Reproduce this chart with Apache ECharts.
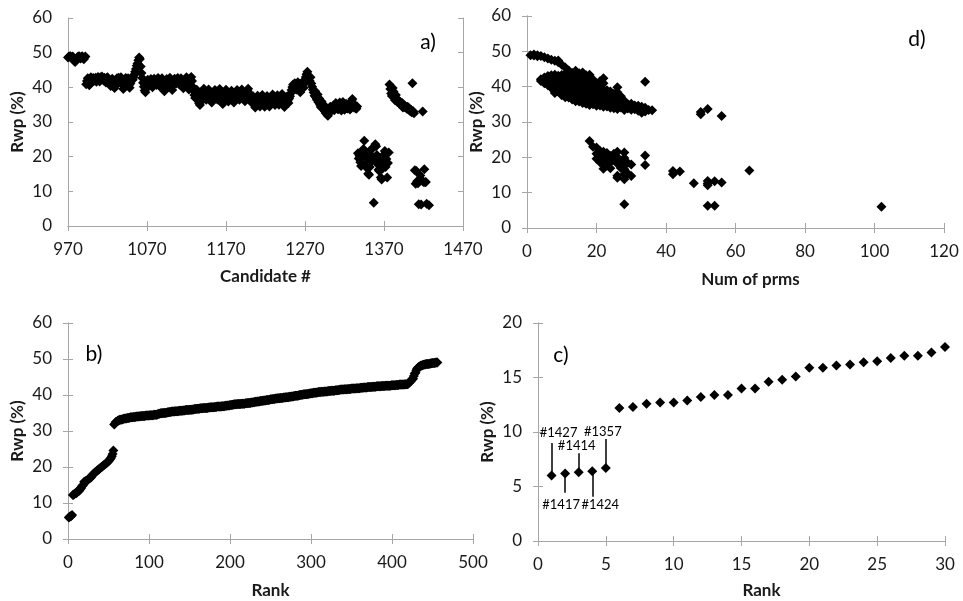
<!DOCTYPE html>
<html><head><meta charset="utf-8">
<script src="https://cdn.jsdelivr.net/npm/echarts@6/dist/echarts.min.js"></script>
<style>html,body{margin:0;padding:0;background:#fff}#c{width:963px;height:601px}</style>
</head><body><div id="c"></div>
<script>
// ---- DATA ----
// Panel a) Rwp (%) for consecutive candidates starting at #970 (null = no candidate)
const candidateStart = 970;
const rwpByCandidate = [
  // 970-992
  48.6,48.8,48.9,49.0,48.7,48.5,48.9,48.2,47.6,47.3,47.8,48.4,48.7,48.9,49.0,48.6,48.3,48.8,49.0,48.5,48.1,48.6,48.9,
  // 993-1052
  40.9,41.8,42.6,41.2,40.6,42.3,42.9,41.5,42.1,42.7,41.9,42.4,42.8,41.6,42.2,43.0,
  42.5,41.7,42.9,42.4,43.1,42.6,42.0,42.8,42.3,41.4,42.7,42.9,42.2,41.8,41.0,40.4,
  41.3,42.5,41.6,40.2,39.8,40.7,41.9,42.6,42.1,42.8,41.5,42.4,42.9,42.0,40.8,39.5,
  40.3,41.7,42.7,42.3,41.2,42.6,40.6,39.9,41.1,42.5,43.0,42.2,
  // 1053-1064
  42.9,43.6,44.5,45.3,46.2,46.9,47.8,48.6,48.2,46.0,44.1,42.7,
  // 1065-1127
  41.3,40.2,39.1,38.6,39.8,41.0,42.2,41.6,40.5,41.9,42.4,41.1,40.0,41.7,42.5,42.0,
  41.4,40.7,42.3,42.7,41.8,40.3,41.5,42.1,42.6,41.2,39.6,38.9,40.1,41.6,42.4,41.9,
  40.9,42.2,42.8,41.3,40.4,39.2,40.6,41.8,42.5,42.0,41.1,42.3,42.7,41.5,40.8,42.1,
  42.6,41.7,40.5,39.7,40.9,41.9,42.4,42.9,41.6,40.2,39.4,41.0,42.2,43.0,41.8,
  // 1128-1205
  40.1,39.0,37.8,36.9,38.4,39.3,37.5,36.2,35.4,34.9,35.8,36.7,38.0,39.1,39.6,38.6,
  37.2,36.4,37.9,38.8,39.4,38.2,37.0,36.1,35.6,36.8,37.6,38.5,39.2,38.9,37.4,36.5,
  37.7,38.3,39.5,38.1,36.6,35.5,35.2,36.3,37.3,38.7,39.3,38.0,36.9,35.9,36.8,37.8,
  38.6,39.0,37.5,36.2,35.6,36.5,37.6,38.4,39.2,38.1,37.1,36.4,37.4,38.5,39.4,38.8,
  37.7,36.7,36.0,37.2,38.2,39.1,39.6,38.3,37.0,36.3,35.7,36.6,37.5,36.4,
  // 1206-1250
  35.2,34.2,35.8,36.9,37.6,36.4,35.5,34.5,35.9,37.2,37.8,36.6,35.3,34.4,35.6,36.8,
  37.5,36.2,35.1,34.5,35.7,36.7,37.4,37.9,36.5,35.4,34.9,36.0,37.1,37.7,36.3,35.0,
  35.8,36.9,37.6,38.1,36.6,35.3,34.3,35.6,36.4,37.3,36.1,35.5,36.8,
  // 1251-1283
  37.4,38.3,39.2,40.1,40.8,39.7,41.2,40.5,39.4,40.9,41.5,40.3,39.0,38.6,40.0,41.3,
  40.6,39.8,41.0,42.1,43.0,43.8,44.5,43.4,42.6,41.8,42.9,41.1,40.2,39.3,38.5,37.6,38.9,
  // 1284-1300
  37.1,36.4,37.9,35.7,36.8,35.0,34.3,35.9,34.0,33.8,34.9,33.2,32.6,33.5,32.1,31.8,32.9,
  // 1301-1336
  33.6,34.4,33.1,34.0,34.3,34.7,33.4,34.2,35.5,34.1,33.8,33.7,34.5,35.6,34.1,33.3,
  33.9,35.8,34.3,33.5,34.4,35.3,34.0,33.9,34.2,34.4,33.6,35.0,36.1,36.6,35.4,34.2,
  34.8,34.0,33.8,34.5,
  // 1337-1376
  21.0,19.5,20.3,18.4,17.3,19.9,21.4,22.2,24.6,20.8,18.0,16.8,19.2,15.1,14.8,17.0,
  21.9,18.6,20.1,22.5,6.7,19.7,23.6,23.0,20.5,17.8,16.2,15.9,19.0,14.0,13.4,16.5,
  18.8,20.6,21.6,17.0,19.3,14.0,18.2,21.2,
  // 1377-1405
  40.8,39.5,38.2,37.5,39.8,38.8,37.0,36.3,37.8,36.8,35.8,36.2,35.4,35.9,35.1,34.8,
  35.5,34.2,35.0,34.3,34.5,34.1,33.8,34.4,33.6,33.9,33.2,33.5,32.8,
  // 1406-1427
  41.2,33.1,32.5,16.1,12.2,15.9,12.9,12.3,6.3,13.4,14.6,6.2,13.2,33.0,12.7,16.4,
  12.6,12.7,6.4,null,null,6.0
];
const candidateTicks = [970, 1070, 1170, 1270, 1370, 1470];

// Panel d) [number of parameters, Rwp (%)]
const prmsRwpPairs = [
  [1,48.9],[2,48.8],[2,49.1],[3,48.9],[3,48.6],[4,48.7],[5,48.3],[6,48.0],[7,47.6],[8,47.3],[9,46.9],[9,47.4],[10,46.2],[11,45.4],[12,44.6],
  [4,42.1],[4,41.6],[5,42.6],[5,41.0],[6,43.0],[6,41.8],[6,40.4],
  [7,43.2],[7,41.9],[7,40.6],[7,39.6],[8,43.4],[8,42.0],[8,40.5],[8,39.2],[8,38.2],
  [9,43.1],[9,41.6],[9,40.0],[9,38.6],[10,43.3],[10,41.8],[10,40.3],[10,38.9],[10,37.6],
  [11,43.6],[11,42.1],[11,40.6],[11,39.2],[11,37.8],[11,37.0],
  [12,42.9],[12,41.4],[12,39.9],[12,38.4],[12,36.9],[13,43.9],[13,42.4],[13,40.8],[13,39.3],[13,37.7],[13,36.4],
  [14,44.5],[14,43.0],[14,41.5],[14,40.0],[14,38.5],[14,37.0],[14,35.9],
  [15,43.8],[15,42.2],[15,40.7],[15,39.0],[15,37.4],[15,35.8],
  [16,44.0],[16,42.5],[16,41.0],[16,39.5],[16,38.0],[16,36.5],[16,35.4],
  [17,43.2],[17,41.8],[17,40.0],[17,38.3],[17,36.6],[17,35.2],
  [18,43.4],[18,41.6],[18,39.8],[18,38.0],[18,36.2],[18,34.8],
  [19,42.0],[19,40.2],[19,38.4],[19,36.7],[19,35.0],
  [20,40.9],[20,39.3],[20,37.6],[20,35.8],[20,34.6],
  [21,41.5],[21,39.8],[21,38.0],[21,36.2],[21,34.7],
  [22,42.4],[22,41.0],[22,39.2],[22,37.3],[22,35.5],[22,34.3],
  [23,39.0],[23,37.4],[23,35.8],[23,34.4],[24,38.6],[24,36.9],[24,35.2],[24,34.0],
  [25,38.0],[25,36.4],[25,34.8],[25,33.9],[26,39.8],[26,38.4],[26,36.8],[26,35.2],[26,33.7],
  [27,37.3],[27,35.6],[27,34.1],[28,36.0],[28,34.6],[28,33.4],[29,35.0],[29,33.8],
  [30,35.2],[30,34.0],[30,33.5],[31,34.7],[31,33.6],[32,34.6],[32,33.2],
  [33,34.3],[33,32.6],[33,33.5],[34,41.4],[34,34.0],[34,33.0],[35,33.4],[36,33.3],
  [50,32.2],[50,32.8],[52,33.7],[56,31.7],
  [18,24.6],[19,23.0],[20,22.8],[20,21.0],[20,19.6],[21,21.8],[21,20.2],[21,18.6],
  [22,21.6],[22,20.0],[22,18.0],[22,16.8],[23,21.2],[23,19.4],[23,17.7],
  [24,20.4],[24,18.6],[24,16.9],[25,21.0],[25,19.3],
  [26,21.6],[26,20.0],[26,18.2],[26,14.8],[26,14.2],[27,19.0],[27,17.0],
  [28,21.4],[28,19.8],[28,18.0],[28,16.6],[28,15.2],[28,13.8],[28,6.7],
  [29,18.4],[29,15.4],[30,18.0],[30,14.7],[34,20.5],[34,17.8],
  [42,16.1],[42,15.2],[44,16.0],[48,12.7],[52,13.3],[52,12.6],[52,12.1],[54,13.2],[56,12.9],
  [64,16.3],[52,6.3],[54,6.3],[102,6.0]
];

// Panel c) annotations for the five best candidates
const annotRanks = [1, 2, 3, 4, 5];
const annotLabels = ['#1427', '#1417', '#1414', '#1424', '#1357'];
const annotEnds = [9.0, 4.43, 8.05, 4.06, 9.35];

// ---- BUILD ----
const FONT = 'Lato';
const AX = '#a6a6a6';
const TXT = '#1a1a1a';
const annotStyle = [
  {distance: 4, padding: [0, 0, 0, 14]},
  {distance: 6, padding: [0, 8, 0, 0]},
  {distance: 1, padding: [0, 4, 0, 0]},
  {distance: 2, padding: [0, 0, 0, 16]},
  {distance: 1, padding: [0, 6, 0, 0]}
];

const pointsA = [];
rwpByCandidate.forEach((v, i) => { if (v !== null) pointsA.push([candidateStart + i, v]); });
const sorted = pointsA.map(p => p[1]).sort((x, y) => x - y);
const pointsB = sorted.map((v, i) => [i + 1, v]);
const pointsC = pointsB.slice(0, 30);

const plain = v => String(v);

function xAxes(grid, min, max, interval, name, gap, padLeft, custom) {
  const base = {
    gridIndex: grid, type: 'value', min: min, max: max, interval: interval,
    splitLine: {show: false},
    axisLine: {show: true, lineStyle: {color: AX, width: 1}},
    axisTick: {show: true, inside: true, length: 5, lineStyle: {color: AX}}
  };
  if (custom) base.axisTick.customValues = custom;
  const bottom = Object.assign({}, base, {
    position: 'bottom',
    axisLabel: {show: true, fontFamily: FONT, fontSize: 17, color: TXT, margin: 15, formatter: plain},
    name: name, nameLocation: 'middle', nameGap: gap,
    nameTextStyle: {fontFamily: FONT, fontSize: 17, fontWeight: 'bold', color: TXT, padding: [0, 0, 0, padLeft]}
  });
  if (custom) bottom.axisLabel.customValues = custom;
  const top = Object.assign({}, base, {position: 'top', axisLabel: {show: false}});
  return [bottom, top];
}
function yAxes(grid, min, max, interval) {
  const base = {
    gridIndex: grid, type: 'value', min: min, max: max, interval: interval,
    splitLine: {show: false},
    axisLine: {show: true, lineStyle: {color: AX, width: 1}},
    axisTick: {show: true, inside: true, length: 5, lineStyle: {color: AX}}
  };
  const left = Object.assign({}, base, {
    position: 'left',
    axisLabel: {show: true, fontFamily: FONT, fontSize: 17, color: TXT, margin: 16, formatter: plain},
    name: 'Rwp (%)', nameLocation: 'middle', nameGap: 42, nameRotate: 90,
    nameTextStyle: {fontFamily: FONT, fontSize: 17, fontWeight: 'bold', color: TXT}
  });
  const right = Object.assign({}, base, {position: 'right', axisLabel: {show: false}});
  return [left, right];
}

const diamond = {symbol: 'diamond', symbolSize: 10, itemStyle: {color: '#000', opacity: 1}};

const option = {
  animation: false,
  backgroundColor: '#fff',
  grid: [
    {left: 68, top: 18, width: 395, height: 208},
    {left: 527, top: 16, width: 417, height: 212},
    {left: 68, top: 323, width: 405, height: 216},
    {left: 538, top: 323, width: 407, height: 218}
  ],
  xAxis: [].concat(
    xAxes(0, 970, 1470, 100, 'Candidate #', 42, 0, candidateTicks),
    xAxes(1, 0, 120, 20, 'Num of prms', 43, 30),
    xAxes(2, 0, 500, 100, 'Rank', 43, 0),
    xAxes(3, 0, 30, 5, 'Rank', 41, 40)
  ),
  yAxis: [].concat(
    yAxes(0, 0, 60, 10), yAxes(1, 0, 60, 10), yAxes(2, 0, 60, 10), yAxes(3, 0, 20, 5)
  ),
  graphic: [
    {type: 'text', x: 428, y: 42, style: {text: 'a)', font: '21px Lato', fill: '#000', textAlign: 'center', textVerticalAlign: 'middle'}},
    {type: 'text', x: 917, y: 39, style: {text: 'd)', font: '21px Lato', fill: '#000', textAlign: 'center', textVerticalAlign: 'middle'}},
    {type: 'text', x: 94, y: 354, style: {text: 'b)', font: '21px Lato', fill: '#000', textAlign: 'center', textVerticalAlign: 'middle'}},
    {type: 'text', x: 561, y: 355, style: {text: 'c)', font: '21px Lato', fill: '#000', textAlign: 'center', textVerticalAlign: 'middle'}}
  ],
  series: [
    Object.assign({type: 'scatter', xAxisIndex: 0, yAxisIndex: 0, data: pointsA}, diamond),
    Object.assign({type: 'scatter', xAxisIndex: 2, yAxisIndex: 2, data: prmsRwpPairs}, diamond),
    Object.assign({type: 'scatter', xAxisIndex: 4, yAxisIndex: 4, data: pointsB}, diamond),
    Object.assign({type: 'scatter', xAxisIndex: 6, yAxisIndex: 6, data: pointsC,
      markLine: {
        silent: true, symbol: ['none', 'none'], animation: false,
        lineStyle: {color: '#000', width: 1.5, type: 'solid'},
        label: {show: true, position: 'end', fontFamily: FONT, fontSize: 13, color: '#000'},
        data: annotRanks.map((r, i) => {
          const v = pointsC[r - 1][1];
          return [{coord: [r, v]}, {coord: [r, annotEnds[i]],
            label: Object.assign({formatter: annotLabels[i]}, annotStyle[i])}];
        })
      }}, diamond)
  ]
};
const chart = echarts.init(document.getElementById('c'), null, {renderer: 'canvas'});
chart.setOption(option);
</script></body></html>
